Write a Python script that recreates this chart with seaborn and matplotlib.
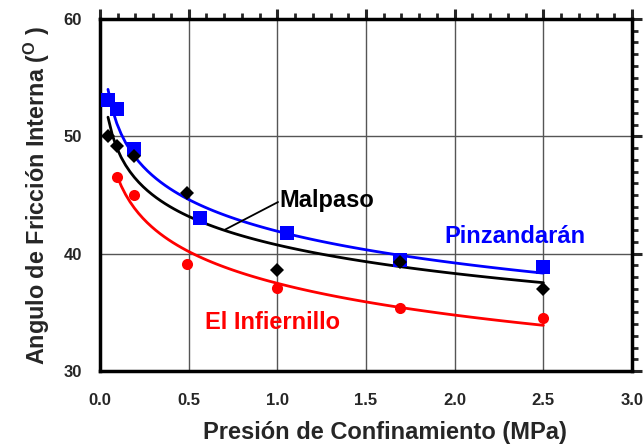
import matplotlib
matplotlib.use("Agg")
import matplotlib.pyplot as plt
import seaborn as sns
import pandas as pd
from matplotlib.ticker import MultipleLocator

sns.set_style("white")
plt.rcParams["font.family"] = ["Liberation Sans", "DejaVu Sans"]
plt.rcParams["mathtext.fontset"] = "custom"
plt.rcParams["mathtext.rm"] = "Liberation Sans:bold"
plt.rcParams["mathtext.bf"] = "Liberation Sans:bold"

# Confining pressure (MPa) and internal friction angle (degrees) per site
pinz_p = [0.045, 0.096, 0.19, 0.564, 1.055, 1.69, 2.50]
pinz_phi = [53.1, 52.3, 48.9, 43.0, 41.8, 39.5, 38.9]

malp_p = [0.045, 0.096, 0.19, 0.49, 1.00, 1.69, 2.50]
malp_phi = [50.0, 49.2, 48.3, 45.2, 38.6, 39.3, 37.0]

infi_p = [0.096, 0.19, 0.49, 1.00, 1.69, 2.50]
infi_phi = [46.5, 45.0, 39.1, 37.1, 35.4, 34.55]

series = [
    ("Pinzandarán", pinz_p, pinz_phi, "#0000ff", "s", 9.5),
    ("Malpaso", malp_p, malp_phi, "#000000", "D", 7.0),
    ("El Infiernillo", infi_p, infi_phi, "#ff0000", "o", 8.0),
]

fig = plt.figure(figsize=(6.44, 4.47), dpi=100)
ax = fig.add_axes([0.1553, 0.17, 0.8261, 0.7875])

ax.set_xlim(0, 3.0)
ax.set_ylim(30, 60)

# grid at major ticks only
for gx in [0.5, 1.0, 1.5, 2.0, 2.5]:
    ax.axvline(gx, color="#555555", lw=1.0, zorder=0)
for gy in [40, 50]:
    ax.axhline(gy, color="#555555", lw=1.0, zorder=0)

for name, p, phi, col, mk, ms in series:
    df = pd.DataFrame({"p": p, "phi": phi})
    sns.regplot(data=df, x="p", y="phi", logx=True, ci=None, scatter=False,
                line_kws=dict(color=col, lw=2.0, zorder=3), ax=ax)
    ax.plot(p, phi, linestyle="none", marker=mk, color=col, markersize=ms,
            markeredgewidth=0, zorder=4)

ax.set_xlabel("Presión de Confinamiento (MPa)", fontsize=17, fontweight="bold",
              labelpad=6)
ax.xaxis.set_label_coords(0.536, -0.176, transform=ax.transAxes)
ax.xaxis.label.set_va("center")
ax.set_ylabel(r"Angulo de Fricción Interna ($^{\mathbf{O}}$ )", fontsize=16.8,
              fontweight="bold", labelpad=8)

ax.xaxis.set_major_locator(MultipleLocator(0.5))
ax.xaxis.set_minor_locator(MultipleLocator(0.1))
ax.yaxis.set_major_locator(MultipleLocator(10))
ax.yaxis.set_minor_locator(MultipleLocator(1))
ax.set_xticks([0, 0.5, 1.0, 1.5, 2.0, 2.5, 3.0])
ax.set_xticklabels(["0.0", "0.5", "1.0", "1.5", "2.0", "2.5", "3.0"])

ax.tick_params(axis="both", which="major", direction="out", length=7, width=2.2,
               labelsize=12, top=True, right=True, pad=6)
ax.tick_params(axis="x", which="major", pad=9)
ax.tick_params(axis="both", which="minor", direction="out", length=4, width=2.0,
               top=True, right=True)
ax.tick_params(axis="y", which="both", labelright=False)
for lbl in ax.get_xticklabels() + ax.get_yticklabels():
    lbl.set_fontweight("bold")

for sp in ax.spines.values():
    sp.set_visible(True)
    sp.set_color("black")
    sp.set_linewidth(2.5)

# series labels
ax.text(1.01, 44.5, "Malpaso", color="black", fontsize=17, fontweight="bold",
        ha="left", va="center", zorder=5)
ax.plot([0.705, 1.004], [42.05, 44.4], color="black", lw=1.3, zorder=5)
ax.text(2.34, 41.45, "Pinzandarán", color="#0000ff", fontsize=17,
        fontweight="bold", ha="center", va="center", zorder=5)
ax.text(0.97, 34.1, "El Infiernillo", color="#ff0000", fontsize=17,
        fontweight="bold", ha="center", va="center", zorder=5)

fig.savefig("out.png", dpi=100)
